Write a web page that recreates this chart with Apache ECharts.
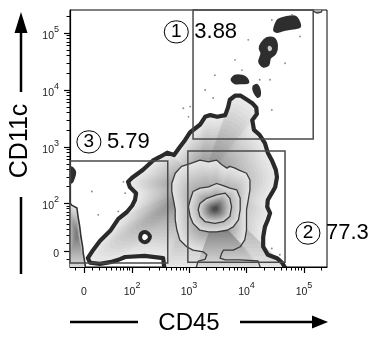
<!DOCTYPE html>
<html>
<head>
<meta charset="utf-8">
<script src="https://cdn.jsdelivr.net/npm/echarts@6/dist/echarts.min.js"></script>
<style>
  html, body { margin: 0; padding: 0; background: #fff; }
  #chart { width: 377px; height: 337px; }
</style>
</head>
<body>
<div id="chart"></div>
<script>
// biexponential display: values are stored in "display decades" (10^3 -> 3, 0 -> log10(W))
const LINEAR_W = 14.8;
const toDisplay = v => Math.log10((v + Math.sqrt(v * v + 4 * LINEAR_W * LINEAR_W)) / 2);

const X_MIN = 0.93, X_MAX = 5.40;
const Y_MIN = 0.895, Y_MAX = 5.404;

const majorTickValues = [0, 100, 1000, 10000, 100000];
const majorTickExp = [null, 2, 3, 4, 5];
const minorTickValues = [-10];
[10, 100, 1000, 10000, 100000].forEach(d => {
  for (let m = (d === 10 ? 1 : 2); m <= 9; m++) minorTickValues.push(m * d);
});

// contour lines, [CD45, CD11c] in display decades
const outerContour = [
  [1.28,0.97],[1.24,1.05],[1.33,1.19],[1.45,1.35],[1.63,1.53],[1.77,1.74],[1.92,1.86],[2.01,1.97],
  [2.06,2.07],[2.08,2.19],[1.97,2.30],[1.94,2.39],[2.01,2.46],[2.20,2.60],[2.37,2.76],[2.50,2.83],
  [2.62,2.90],[2.74,2.86],[2.84,3.00],[2.93,3.12],[3.02,3.26],[3.19,3.39],[3.28,3.53],[3.37,3.56],
  [3.49,3.53],[3.63,3.56],[3.68,3.70],[3.71,3.83],[3.80,3.90],[3.90,3.90],[4.01,3.83],[4.10,3.77],
  [4.17,3.69],[4.18,3.58],[4.10,3.47],[4.13,3.30],[4.23,3.21],[4.32,3.07],[4.37,2.90],[4.44,2.77],
  [4.51,2.60],[4.53,2.47],[4.50,2.30],[4.44,2.19],[4.37,2.07],[4.36,1.95],[4.41,1.84],[4.37,1.72],
  [4.32,1.60],[4.29,1.42],[4.29,1.25],[4.37,1.11],[4.53,1.05],[4.62,0.97],[4.72,0.80],
  [2.58,0.80],[2.55,1.05],[2.23,1.09],[1.89,1.07],[1.77,1.02],[1.63,0.98],[1.45,0.95]
];
const ringA = [
  [2.70,2.36],[2.76,2.54],[2.87,2.66],[3.02,2.71],[3.19,2.77],[3.34,2.74],[3.48,2.77],[3.57,2.69],
  [3.66,2.63],[3.71,2.66],[3.80,2.63],[3.86,2.60],[4.00,2.54],[4.06,2.42],[4.06,2.25],[4.03,2.07],
  [4.00,1.90],[4.00,1.72],[4.00,1.54],[3.97,1.37],[3.89,1.25],[3.77,1.19],[3.60,1.19],[3.57,1.14],
  [3.54,1.05],[3.63,1.02],[3.89,1.02],[4.20,1.00],[4.27,0.80],[3.10,0.80],[3.16,1.00],[3.28,1.03],
  [3.31,1.11],[3.25,1.16],[3.07,1.19],[2.96,1.25],[2.84,1.37],[2.79,1.54],[2.76,1.72],[2.76,1.90],
  [2.73,2.07],[2.70,2.22]
];
const ringB = [
  [3.02,2.07],[3.07,2.22],[3.19,2.28],[3.34,2.30],[3.48,2.36],[3.57,2.33],[3.71,2.28],[3.83,2.25],
  [3.89,2.10],[3.89,1.90],[3.86,1.72],[3.77,1.60],[3.66,1.54],[3.48,1.51],[3.34,1.51],[3.19,1.54],
  [3.07,1.66],[3.02,1.78],[2.99,1.95]
];
const ringC = [
  [3.16,1.90],[3.19,2.01],[3.31,2.10],[3.48,2.16],[3.63,2.19],[3.71,2.10],[3.74,1.95],[3.71,1.78],
  [3.60,1.69],[3.45,1.66],[3.28,1.69],[3.19,1.78]
];
const leftStrip = [
  [0.84,2.02],[0.93,2.02],[0.96,1.98],[1.05,1.93],[1.07,1.78],[1.10,1.60],[1.12,1.43],[1.15,1.25],
  [1.16,1.14],[1.19,0.96],[1.21,0.80],[0.84,0.80]
];
const leftEdgeBlob = [[0.84,2.65],[0.93,2.65],[0.98,2.63],[1.02,2.56],[1.00,2.46],[0.97,2.39],[0.93,2.37],[0.84,2.37]];
const hole = [[2.32,1.42],[2.29,1.48],[2.23,1.51],[2.17,1.48],[2.15,1.42],[2.17,1.36],[2.23,1.33],[2.29,1.36]];
const island1 = [[4.50,5.14],[4.55,5.23],[4.70,5.28],[4.84,5.29],[4.90,5.23],[4.93,5.11],[4.81,5.08],[4.64,5.05],[4.53,5.02],[4.48,5.05]];
const island2 = [[4.26,4.82],[4.35,4.91],[4.47,4.91],[4.53,4.79],[4.50,4.64],[4.41,4.56],[4.38,4.44],[4.29,4.41],[4.22,4.50],[4.26,4.64],[4.23,4.73]];
const island2Core = [[4.38,4.77],[4.43,4.76],[4.44,4.71],[4.40,4.68],[4.37,4.72]];
const island3 = [[3.74,4.18],[3.80,4.25],[3.92,4.25],[4.00,4.21],[4.03,4.13],[3.92,4.12],[3.80,4.12]];
const island4 = [[4.12,4.06],[4.18,4.09],[4.23,4.00],[4.23,3.90],[4.19,3.88],[4.13,3.97]];
const topEdgeBlob = [[5.16,5.45],[5.17,5.38],[5.23,5.35],[5.30,5.37],[5.33,5.45]];

// single events outside the contours
const events = [
  [4.44,5.23],[4.79,5.32],[4.93,4.94],[3.80,4.53],[3.92,4.35],[3.45,4.26],[3.28,4.00],[3.42,3.86],
  [4.23,4.18],[4.41,4.18],[4.67,4.47],[4.44,3.65],[2.90,3.68],[3.02,3.71],[2.99,3.53],[4.03,4.88],
  [1.31,2.22],[1.86,2.39],[1.77,1.87],[1.42,1.81],[1.89,2.19],[4.44,1.22],[4.58,1.11]
];

// gates: [xFrom, yFrom, xTo, yTo]
const gateIds = ['1', '2', '3'];
const gatePercents = ['3.88', '77.3', '5.79'];
const gateBoxes = [[3.07, 3.14, 5.16, 5.404], [2.98, 0.98, 4.67, 2.93], [0.93, 0.965, 2.63, 2.755]];
const gateLabelAnchors = [[2.57, 5.02], [4.86, 1.49], [1.05, 3.09]];

const contourShapes = [
  { points: outerContour, kind: 'band', light: 234, dark: 125, stroke: '#2a2a2a', lineWidth: 4.2 },
  { points: hole, kind: 'hole' },
  { points: leftStrip, kind: 'band', light: 228, dark: 125, stroke: '#333', lineWidth: 1.6 },
  { points: leftEdgeBlob, kind: 'solid' },
  { points: topEdgeBlob, kind: 'band', light: 220, dark: 150, stroke: '#444', lineWidth: 1.5 },
  { points: island1, kind: 'solid' },
  { points: island2, kind: 'solid' },
  { points: island2Core, kind: 'core' },
  { points: island3, kind: 'solid' },
  { points: island4, kind: 'solid' },
  { points: ringA, kind: 'band', light: 228, dark: 105, stroke: '#3a3a3a', lineWidth: 1.3 },
  { points: ringB, kind: 'band', light: 222, dark: 100, stroke: '#3a3a3a', lineWidth: 1.3 },
  { points: ringC, kind: 'band', light: 215, dark: 75, stroke: '#3a3a3a', lineWidth: 1.3 }
];

const gray = v => `rgb(${v},${v},${v})`;

// light at the contour line, darker toward the inside
function bandElements(pts, light, dark) {
  let cx = 0, cy = 0;
  pts.forEach(p => { cx += p[0]; cy += p[1]; });
  cx /= pts.length; cy /= pts.length;
  const steps = 20;
  const els = [];
  for (let i = 0; i < steps; i++) {
    const t = i / (steps - 1);
    const s = 1 - t * 0.88;
    els.push({
      type: 'polygon',
      shape: { points: pts.map(p => [cx + (p[0] - cx) * s, cy + (p[1] - cy) * s]) },
      style: { fill: gray(Math.round(light + (dark - light) * Math.pow(t, 1.1))) },
      silent: true
    });
  }
  return els;
}

function renderContour(params, api) {
  const shape = contourShapes[params.dataIndex];
  const pts = shape.points.map(p => api.coord(p));
  let children = [];
  if (shape.kind === 'band') {
    children = bandElements(pts, shape.light, shape.dark);
    children.push({
      type: 'polygon', shape: { points: pts }, silent: true,
      style: { fill: 'none', stroke: shape.stroke, lineWidth: shape.lineWidth, lineJoin: 'round' }
    });
  } else if (shape.kind === 'hole') {
    children.push({ type: 'polygon', shape: { points: pts, smooth: 0.5 }, style: { fill: '#fff', stroke: '#2a2a2a', lineWidth: 4 } });
  } else if (shape.kind === 'core') {
    children.push({ type: 'polygon', shape: { points: pts, smooth: 0.5 }, style: { fill: '#c8c8c8' } });
  } else {
    children.push({ type: 'polygon', shape: { points: pts, smooth: 0.3 }, style: { fill: '#2e2e2e', stroke: '#2e2e2e', lineWidth: 2, lineJoin: 'round' } });
  }
  return { type: 'group', children: children };
}

const gateRich = {
  c: { width: 24, height: 22, lineHeight: 22, align: 'center', borderColor: '#000', borderWidth: 1,
       borderRadius: 12, fontSize: 19, fontFamily: 'Liberation Sans', color: '#000' },
  v: { fontSize: 22, fontFamily: 'Liberation Sans', color: '#000', padding: [0, 0, 0, 6] }
};

function renderGate(params, api) {
  const i = params.dataIndex;
  const b = gateBoxes[i];
  const p0 = api.coord([b[0], b[3]]);
  const p1 = api.coord([b[2], b[1]]);
  const a = api.coord(gateLabelAnchors[i]);
  return {
    type: 'group',
    children: [
      { type: 'rect', shape: { x: p0[0], y: p0[1], width: p1[0] - p0[0], height: p1[1] - p0[1] },
        style: { fill: 'none', stroke: '#4a4a4a', lineWidth: 1.5 } },
      { type: 'text', x: a[0], y: a[1],
        style: { text: '{c|' + gateIds[i] + '}{v|' + gatePercents[i] + '}', rich: gateRich,
                 align: 'left', verticalAlign: 'middle' } }
    ]
  };
}

const xMajor = majorTickValues.map(toDisplay);
const yMajor = majorTickValues.map(toDisplay);
const xMinor = minorTickValues.map(toDisplay).filter(v => v > X_MIN && v < X_MAX);
const yMinor = minorTickValues.map(toDisplay).filter(v => v > Y_MIN && v < Y_MAX);

const tickRich = {
  b: { fontSize: 10.5, lineHeight: 17, verticalAlign: 'bottom', fontFamily: 'Liberation Sans', color: '#222' },
  s: { fontSize: 9, lineHeight: 17, verticalAlign: 'top', fontFamily: 'Liberation Sans', color: '#222' }
};
const tickFormatter = ticks => val => {
  let idx = 0, best = Infinity;
  ticks.forEach((t, k) => { if (Math.abs(t - val) < best) { best = Math.abs(t - val); idx = k; } });
  const e = majorTickExp[idx];
  return e == null ? '{b|0}' : '{b|10}{s|' + e + '}';
};

const chart = echarts.init(document.getElementById('chart'), null, { renderer: 'canvas' });

const option = {
  animation: false,
  grid: { left: 70, top: 10, width: 257, height: 257, show: true, borderColor: '#000', borderWidth: 1 },
  xAxis: [
    {
      type: 'value', min: X_MIN, max: X_MAX, position: 'bottom',
      splitLine: { show: false },
      axisLine: { show: true, onZero: false, lineStyle: { color: '#000', width: 1.2 } },
      axisTick: { show: true, customValues: xMajor, length: 6, lineStyle: { color: '#000', width: 1.2 } },
      axisLabel: { show: true, customValues: xMajor, margin: 14, formatter: tickFormatter(xMajor), rich: tickRich }
    },
    {
      type: 'value', min: X_MIN, max: X_MAX, position: 'bottom', offset: 0,
      splitLine: { show: false }, axisLine: { show: false }, axisLabel: { show: false },
      axisTick: { show: true, customValues: xMinor, length: 3.5, lineStyle: { color: '#000', width: 1 } }
    }
  ],
  yAxis: [
    {
      type: 'value', min: Y_MIN, max: Y_MAX, position: 'left',
      splitLine: { show: false },
      axisLine: { show: true, onZero: false, lineStyle: { color: '#000', width: 1.2 } },
      axisTick: { show: true, customValues: yMajor, length: 6, lineStyle: { color: '#000', width: 1.2 } },
      axisLabel: { show: true, customValues: yMajor, margin: 11, formatter: tickFormatter(yMajor), rich: tickRich }
    },
    {
      type: 'value', min: Y_MIN, max: Y_MAX, position: 'left', offset: 0,
      splitLine: { show: false }, axisLine: { show: false }, axisLabel: { show: false },
      axisTick: { show: true, customValues: yMinor, length: 3.5, lineStyle: { color: '#000', width: 1 } }
    }
  ],
  series: [
    {
      type: 'custom', name: 'contours', clip: true, silent: true,
      xAxisIndex: 0, yAxisIndex: 0,
      renderItem: renderContour,
      data: contourShapes.map(s => s.points[0]),
      z: 2
    },
    {
      type: 'scatter', name: 'events', xAxisIndex: 0, yAxisIndex: 0,
      symbol: 'circle', symbolSize: 1.8, silent: true,
      itemStyle: { color: '#6a6a6a' },
      data: events, z: 3
    },
    {
      type: 'custom', name: 'gates', clip: false, silent: true,
      xAxisIndex: 0, yAxisIndex: 0,
      renderItem: renderGate,
      data: gateBoxes.map(b => [b[0], b[1]]),
      z: 4
    }
  ],
  graphic: [
    { type: 'text', x: 189, y: 323, style: { text: 'CD45', fill: '#000', font: '24px "Liberation Sans"', align: 'center', verticalAlign: 'middle' } },
    { type: 'line', shape: { x1: 70, y1: 322, x2: 138, y2: 322 }, style: { stroke: '#000', lineWidth: 2.5 } },
    { type: 'line', shape: { x1: 240, y1: 322, x2: 314, y2: 322 }, style: { stroke: '#000', lineWidth: 2.5 } },
    { type: 'polygon', shape: { points: [[328, 322], [312, 315.5], [312, 328.5]] }, style: { fill: '#000' } },
    { type: 'text', x: 20, y: 141, rotation: Math.PI / 2, style: { text: 'CD11c', fill: '#000', font: '25px "Liberation Sans"', align: 'center', verticalAlign: 'middle' } },
    { type: 'line', shape: { x1: 21, y1: 31, x2: 21, y2: 92 }, style: { stroke: '#000', lineWidth: 2.5 } },
    { type: 'polygon', shape: { points: [[21, 12], [14.5, 33], [27.5, 33]] }, style: { fill: '#000' } },
    { type: 'line', shape: { x1: 21, y1: 197, x2: 21, y2: 274 }, style: { stroke: '#000', lineWidth: 2.5 } }
  ]
};

chart.setOption(option);
</script>
</body>
</html>
